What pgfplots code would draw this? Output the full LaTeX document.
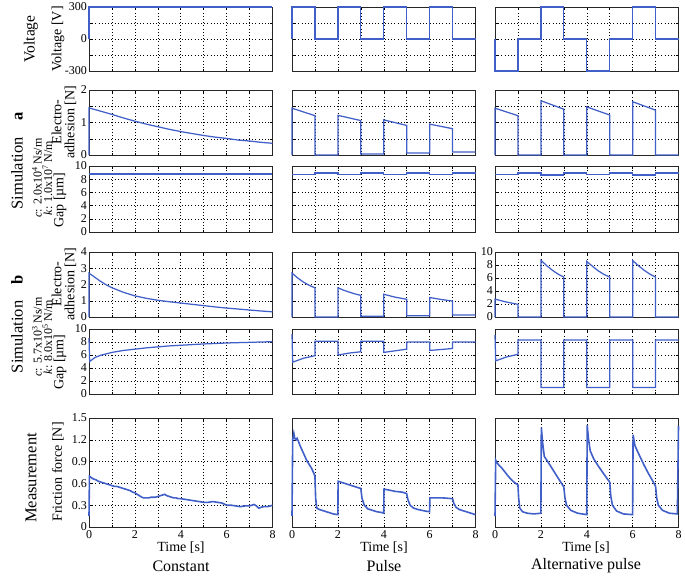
\documentclass[border=0pt]{standalone}
\usepackage{pgfplots}
\pgfplotsset{compat=1.18}
\usepackage{fontspec}
\setmainfont{Liberation Serif}
\definecolor{lineblue}{RGB}{65,95,200}

\pgfplotsset{
  panel/.style={
    scale only axis, width=183.5pt,
    xmin=0, xmax=8, xtick={0,...,8}, xticklabels={}, yticklabels={},
    grid=major, clip=false, axis on top=false,
    major grid style={black, line width=0.5pt, dash pattern=on 0.9pt off 2.3pt},
    axis line style={black!85, line width=0.9pt},
    tick style={black, line width=0.5pt}, major tick length=2.5pt, tick align=inside,
    tick label style={font=\rmfamily\fontsize{12}{12}\selectfont},
    yticklabel style={xshift=1.5pt},
    anchor=north west,
    every axis plot/.append style={line width=1.25pt},
    every axis plot post/.append style={lineblue, mark=none},
  },
  rowV/.style={panel, height=64pt, ymin=-300, ymax=300, ytick={-300,-150,0,150,300}},
  rowEa/.style={panel, height=65pt, ymin=0, ymax=2, ytick={0,0.5,...,2}},
  rowGa/.style={panel, height=66pt, ymin=0, ymax=10, ytick={0,2,...,10}},
  rowEb/.style={panel, height=65pt, ymin=0, ymax=4, ytick={0,1,...,4}},
  rowGb/.style={panel, height=65pt, ymin=0, ymax=10, ytick={0,2,...,10}},
  rowF/.style={panel, height=109pt, ymin=0, ymax=1.5, ytick={0,0.3,...,1.5},
    xticklabels={0,,2,,4,,6,,8}},
}

\begin{document}
\begin{tikzpicture}
\path[use as bounding box] (0pt,0pt) rectangle (685pt,-576pt);

% ---------------- Voltage
\begin{axis}[rowV, at={(89pt,-7pt)}, yticklabels={-300,,0,,300}]
\addplot coordinates {(0,0)(0,300)(8,300)};
\end{axis}
\begin{axis}[rowV, at={(292pt,-7pt)}]
\addplot coordinates {(0,0)(0,300)(1,300)(1,0)(2,0)(2,300)(3,300)(3,0)(4,0)(4,300)(5,300)(5,0)(6,0)(6,300)(7,300)(7,0)(8,0)};
\end{axis}
\begin{axis}[rowV, at={(495pt,-7pt)}]
\addplot coordinates {(0,0)(0,-300)(1,-300)(1,0)(2,0)(2,300)(3,300)(3,0)(4,0)(4,-300)(5,-300)(5,0)(6,0)(6,300)(7,300)(7,0)(8,0)};
\end{axis}

% ---------------- Simulation a: electroadhesion
\begin{axis}[rowEa, at={(89pt,-90pt)}, yticklabels={0,,1,,2}]
\addplot coordinates {(0,0)(0,1.45)(0.5,1.35)(1,1.25)(1.5,1.14)(2,1.04)(2.5,0.95)(3,0.87)(3.5,0.79)(4,0.72)(4.5,0.66)(5,0.60)(5.5,0.55)(6,0.51)(6.5,0.46)(7,0.43)(7.5,0.39)(8,0.36)};
\end{axis}
\begin{axis}[rowEa, at={(292pt,-90pt)}]
\addplot coordinates {(0,0)(0,1.44)(1,1.21)(1,0)(2,0)(2,1.22)(3,1.06)(3,0.03)(4,0.03)(4,1.08)(5,0.91)(5,0.06)(6,0.06)(6,0.95)(7,0.81)(7,0.09)(8,0.09)};
\end{axis}
\begin{axis}[rowEa, at={(495pt,-90pt)}]
\addplot coordinates {(0,0)(0,1.44)(1,1.21)(1,0)(2,0)(2,1.67)(3,1.41)(3,0)(4,0)(4,1.48)(5,1.23)(5,0)(6,0)(6,1.64)(7,1.38)(7,0)(8,0)};
\end{axis}

% ---------------- Simulation a: gap
\begin{axis}[rowGa, at={(89pt,-166pt)}, yticklabels={0,2,4,6,8,10}]
\addplot coordinates {(0,8.8)(8,8.8)};
\end{axis}
\begin{axis}[rowGa, at={(292pt,-166pt)}]
\addplot coordinates {(0,8.75)(1,8.75)(1,8.95)(2,8.95)(2,8.75)(3,8.75)(3,8.95)(4,8.95)(4,8.75)(5,8.75)(5,8.95)(6,8.95)(6,8.75)(7,8.75)(7,8.95)(8,8.95)};
\end{axis}
\begin{axis}[rowGa, at={(495pt,-166pt)}]
\addplot coordinates {(0,8.75)(1,8.75)(1,8.95)(2,8.95)(2,8.65)(3,8.65)(3,8.95)(4,8.95)(4,8.75)(5,8.75)(5,8.95)(6,8.95)(6,8.65)(7,8.65)(7,8.95)(8,8.95)};
\end{axis}

% ---------------- Simulation b: electroadhesion
\begin{axis}[rowEb, at={(89pt,-252pt)}, yticklabels={0,1,2,3,4}]
\addplot coordinates {(0,0)(0,2.7)(0.1,2.6)(0.25,2.45)(0.5,2.2)(0.75,1.98)(1,1.8)(1.5,1.52)(2,1.3)(2.5,1.15)(3,1.03)(3.5,0.94)(4,0.86)(4.5,0.78)(5,0.70)(5.5,0.62)(6,0.55)(6.5,0.49)(7,0.43)(7.5,0.37)(8,0.32)};
\end{axis}
\begin{axis}[rowEb, at={(292pt,-252pt)}]
\addplot coordinates {(0,0)(0,2.7)(0.25,2.4)(0.5,2.15)(0.75,1.95)(1,1.8)(1,0)(2,0)(2,1.8)(2.25,1.65)(2.5,1.53)(2.75,1.42)(3,1.33)(3,0.05)(4,0.05)(4,1.4)(4.5,1.22)(5,1.09)(5,0.08)(6,0.08)(6,1.2)(6.5,1.08)(7,0.98)(7,0.12)(8,0.12)};
\end{axis}
\begin{axis}[rowEb, at={(495pt,-252pt)}, ymax=10, ytick={0,2,...,10}, yticklabels={0,2,4,6,8,10}]
\addplot coordinates {(0,0)(0,2.75)(0.5,2.3)(1,1.95)(1,0)(2,0)(2,8.75)(2.25,7.9)(2.5,7.2)(2.75,6.6)(3,6.15)(3,0)(4,0)(4,8.55)(4.25,7.8)(4.5,7.1)(4.75,6.55)(5,6.15)(5,0)(6,0)(6,8.7)(6.25,7.9)(6.5,7.2)(6.75,6.6)(7,6.15)(7,0)(8,0)};
\end{axis}

% ---------------- Simulation b: gap
\begin{axis}[rowGb, at={(89pt,-329pt)}, yticklabels={0,2,4,6,8,10}]
\addplot coordinates {(0,8.6)(0.03,5.0)(0.25,5.6)(0.5,5.95)(1,6.4)(1.5,6.7)(2,6.9)(2.5,7.1)(3,7.25)(3.5,7.4)(4,7.5)(5,7.7)(6,7.85)(7,7.95)(8,8.05)};
\end{axis}
\begin{axis}[rowGb, at={(292pt,-329pt)}]
\addplot coordinates {(0,9.2)(0.03,4.9)(0.5,5.5)(1,5.9)(1,8.1)(2,8.1)(2,6.0)(2.5,6.3)(3,6.5)(3,8.1)(4,8.1)(4,6.4)(4.5,6.65)(5,6.9)(5,8.0)(6,8.0)(6,6.7)(6.5,6.85)(7,7.0)(7,8.0)(8,8.0)};
\end{axis}
\begin{axis}[rowGb, at={(495pt,-329pt)}]
\addplot coordinates {(0,9.1)(0.03,5.1)(0.5,5.7)(1,6.1)(1,8.3)(2,8.3)(2,1.0)(3,1.0)(3,8.3)(4,8.3)(4,1.0)(5,1.0)(5,8.3)(6,8.3)(6,1.0)(7,1.0)(7,8.3)(8,8.3)};
\end{axis}

% ---------------- Measurement: friction force
\begin{axis}[rowF, at={(89pt,-418pt)}, yticklabels={0,0.3,0.6,0.9,1.2,1.5}]
\addplot+[line width=1.6pt] coordinates {(0,0.15)(0.02,0.70)(0.1,0.68)(0.2,0.66)(0.3,0.65)(0.4,0.63)(0.5,0.62)(0.6,0.61)(0.7,0.60)(0.8,0.59)(0.9,0.58)(1.0,0.57)(1.1,0.56)(1.2,0.56)(1.3,0.55)(1.4,0.54)(1.5,0.53)(1.6,0.52)(1.7,0.51)(1.8,0.50)(1.9,0.48)(2.0,0.47)(2.1,0.45)(2.2,0.43)(2.3,0.41)(2.4,0.40)(2.5,0.40)(2.6,0.40)(2.7,0.41)(2.8,0.41)(2.9,0.41)(3.0,0.42)(3.1,0.43)(3.2,0.44)(3.3,0.45)(3.4,0.43)(3.5,0.42)(3.6,0.41)(3.7,0.40)(3.8,0.40)(3.9,0.39)(4.0,0.39)(4.2,0.38)(4.4,0.37)(4.6,0.36)(4.8,0.35)(5.0,0.34)(5.2,0.34)(5.4,0.35)(5.6,0.34)(5.8,0.33)(6.0,0.30)(6.2,0.30)(6.4,0.29)(6.6,0.28)(6.8,0.29)(7.0,0.29)(7.1,0.30)(7.2,0.31)(7.3,0.29)(7.4,0.26)(7.5,0.27)(7.6,0.28)(7.8,0.28)(8.0,0.30)};
\end{axis}
\begin{axis}[rowF, at={(292pt,-418pt)}, xticklabels={0,,2,,4,,6,,8}]
\addplot+[line width=1.6pt] coordinates {(0,0.15)(0.03,1.20)(0.08,1.29)(0.12,1.22)(0.18,1.20)(0.22,1.22)(0.28,1.18)(0.35,1.12)(0.45,1.05)(0.55,0.98)(0.65,0.91)(0.75,0.86)(0.85,0.81)(0.95,0.74)(1.0,0.70)(1.03,0.40)(1.08,0.26)(1.2,0.24)(1.4,0.22)(1.6,0.20)(1.8,0.18)(2.0,0.17)(2.01,0.63)(2.2,0.61)(2.4,0.59)(2.6,0.57)(2.8,0.55)(3.0,0.53)(3.05,0.40)(3.15,0.30)(3.3,0.25)(3.5,0.23)(3.7,0.21)(3.9,0.20)(4.0,0.19)(4.01,0.52)(4.2,0.51)(4.5,0.49)(4.8,0.48)(5.0,0.46)(5.05,0.38)(5.15,0.30)(5.3,0.26)(5.5,0.24)(5.8,0.22)(6.0,0.21)(6.01,0.40)(6.3,0.40)(6.6,0.40)(7.0,0.39)(7.05,0.33)(7.15,0.27)(7.3,0.24)(7.6,0.21)(8.0,0.17)};
\end{axis}
\begin{axis}[rowF, at={(495pt,-418pt)}]
\addplot+[line width=1.6pt] coordinates {(0,0.15)(0.03,0.92)(0.1,0.88)(0.2,0.84)(0.3,0.81)(0.45,0.75)(0.6,0.69)(0.75,0.64)(0.9,0.60)(1.0,0.58)(1.03,0.40)(1.08,0.26)(1.2,0.21)(1.4,0.19)(1.7,0.18)(2.0,0.19)(2.02,1.37)(2.08,1.15)(2.15,0.97)(2.3,0.90)(2.5,0.80)(2.7,0.70)(2.9,0.60)(3.0,0.55)(3.05,0.40)(3.12,0.30)(3.3,0.23)(3.6,0.19)(4.0,0.17)(4.02,1.40)(4.08,1.20)(4.15,1.05)(4.3,0.94)(4.5,0.84)(4.7,0.75)(4.9,0.66)(5.0,0.62)(5.05,0.42)(5.12,0.30)(5.3,0.22)(5.6,0.18)(6.0,0.17)(6.02,1.27)(6.1,1.12)(6.2,1.05)(6.35,0.95)(6.5,0.85)(6.7,0.73)(6.9,0.62)(7.0,0.56)(7.05,0.40)(7.12,0.30)(7.3,0.23)(7.6,0.19)(7.95,0.18)(8.0,1.39)};
\end{axis}

% ---------------- labels
\begin{scope}[every node/.style={rotate=90, inner sep=0pt}]
\node[font=\fontsize{15.5}{15.5}\selectfont] at (31pt,-39pt) {Voltage};
\node[font=\fontsize{14}{14}\selectfont] at (58pt,-39pt) {Voltage [V]};

\node[font=\fontsize{16.5}{16.5}\selectfont] at (17pt,-161pt) {Simulation\quad\textbf{a}};
\node[font=\fontsize{12}{12}\selectfont] at (37pt,-178pt) {\textit{c}: 2.0x10\textsuperscript{4} Ns/m};
\node[font=\fontsize{12}{12}\selectfont] at (47.5pt,-178pt) {\textit{k}: 1.0x10\textsuperscript{7} N/m};
\node[font=\fontsize{14}{13}\selectfont, align=center] at (64pt,-122pt) {Electro-\\adhesion [N]};
\node[font=\fontsize{14}{14}\selectfont] at (60pt,-200pt) {Gap [µm]};

\node[font=\fontsize{16.5}{16.5}\selectfont] at (17pt,-324pt) {Simulation\quad\textbf{b}};
\node[font=\fontsize{12}{12}\selectfont] at (37pt,-337pt) {\textit{c}: 5.7x10\textsuperscript{3} Ns/m};
\node[font=\fontsize{12}{12}\selectfont] at (47.5pt,-337pt) {\textit{k}: 8.0x10\textsuperscript{5} N/m};
\node[font=\fontsize{14}{13}\selectfont, align=center] at (64pt,-284pt) {Electro-\\adhesion [N]};
\node[font=\fontsize{14}{14}\selectfont] at (60pt,-362pt) {Gap [µm]};

\node[font=\fontsize{16.5}{16.5}\selectfont] at (31pt,-478pt) {Measurement};
\node[font=\fontsize{14}{14}\selectfont] at (58pt,-472pt) {Friction force [N]};
\end{scope}

\begin{scope}[every node/.style={inner sep=0pt}]
\node[font=\fontsize{14}{14}\selectfont] at (181pt,-548pt) {Time [s]};
\node[font=\fontsize{14}{14}\selectfont] at (384pt,-548pt) {Time [s]};
\node[font=\fontsize{14}{14}\selectfont] at (586pt,-548pt) {Time [s]};
\node[font=\fontsize{16}{16}\selectfont] at (181pt,-566pt) {Constant};
\node[font=\fontsize{16}{16}\selectfont] at (384pt,-566pt) {Pulse};
\node[font=\fontsize{16}{16}\selectfont] at (586pt,-566pt) {Alternative pulse};
\end{scope}
\end{tikzpicture}
\end{document}
